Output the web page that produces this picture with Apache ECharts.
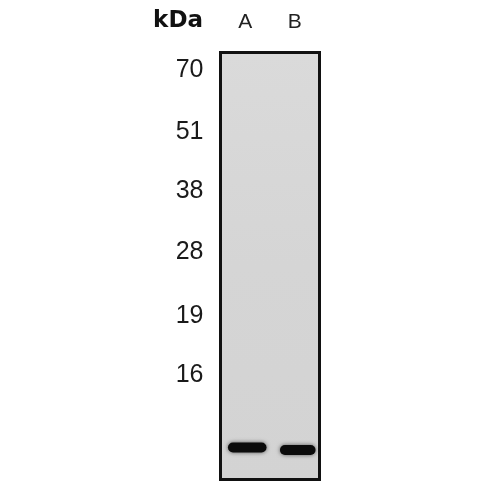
<!DOCTYPE html>
<html>
<head>
<meta charset="utf-8">
<script src="https://cdn.jsdelivr.net/npm/echarts@6/dist/echarts.min.js"></script>
<style>html,body{margin:0;padding:0;background:#fff;}#c{width:500px;height:500px;}</style>
</head>
<body>
<div id="c"></div>
<script>
// Lanes
var lanes = ['A', 'B'];
// Molecular weight markers (kDa) and their migration distance (arbitrary units from top of gel)
var markerLabels = ['70', '51', '38', '28', '19', '16'];
var markerMigration = [17.5, 79.5, 138.5, 199.5, 263.5, 322.5];
// Detected bands: lane and migration distance
var bandLanes = ['A', 'B'];
var bandMigration = [395, 397.5];

var gelLength = 427;

var chart = echarts.init(document.getElementById('c'));
var bandData = bandLanes.map(function (l, i) { return [l, bandMigration[i]]; });

chart.setOption({
  animation: false,
  backgroundColor: '#ffffff',
  graphic: [{
    type: 'text',
    style: {
      text: 'kDa', x: 203, y: 21, align: 'right', verticalAlign: 'middle',
      font: 'bold 23px "DejaVu Sans", sans-serif', fill: '#111'
    }
  }],
  grid: {
    left: 220.5, right: 180.5, top: 52.5, bottom: 20.5,
    show: true, borderWidth: 3, borderColor: '#111',
    backgroundColor: {
      type: 'linear', x: 0, y: 0, x2: 0, y2: 1,
      colorStops: [{ offset: 0, color: '#dadada' }, { offset: 0.5, color: '#d5d5d5' }, { offset: 1, color: '#d3d3d3' }]
    }
  },
  xAxis: {
    type: 'category', data: lanes, position: 'top',
    axisLine: { show: false }, axisTick: { show: false }, splitLine: { show: false },
    axisLabel: { margin: 20, fontSize: 21, color: '#222', fontFamily: '"Liberation Sans", Arial, sans-serif' }
  },
  yAxis: {
    type: 'value', inverse: true, min: 0, max: gelLength,
    axisLine: { show: false }, axisTick: { show: false }, splitLine: { show: false },
    axisLabel: {
      customValues: markerMigration,
      margin: 17, fontSize: 25, color: '#1a1a1a',
      fontFamily: '"Liberation Sans Narrow", "Liberation Sans", Arial, sans-serif',
      formatter: function (v) {
        var i = markerMigration.indexOf(v);
        return i >= 0 ? markerLabels[i] : '';
      }
    }
  },
  series: [{
    type: 'custom',
    data: bandData,
    encode: { x: 0, y: 1 },
    renderItem: function (params, api) {
      var lane = api.value(0);
      var p = api.coord([lane, api.value(1)]);
      var laneW = api.size([1, 0])[0];
      var frac = params.dataIndex === 0 ? 0.78 : 0.72;
      var w = laneW * frac;
      var h = 10;
      return {
        type: 'rect',
        shape: { x: p[0] - w / 2 + (params.dataIndex === 0 ? 2 : 3), y: p[1] - h / 2, width: w, height: h, r: h / 2 },
        style: { fill: '#0b0b0b', shadowBlur: 4, shadowColor: 'rgba(0,0,0,0.6)' }
      };
    }
  }]
});
</script>
</body>
</html>
